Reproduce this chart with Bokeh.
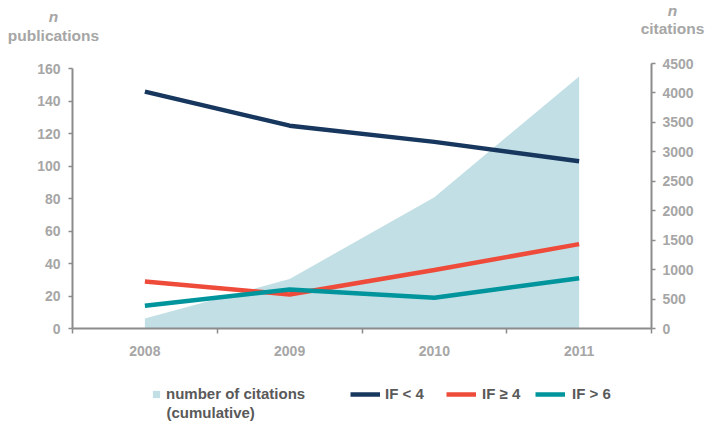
import numpy as np
from bokeh.plotting import figure
from bokeh.layouts import column
from bokeh.models import (Range1d, LinearAxis, FixedTicker, SingleIntervalTicker,
                          ColumnDataSource, Label, Legend, LegendItem)
from bokeh.embed import file_html
from bokeh.resources import INLINE

# ---- data -------------------------------------------------------------
years = ["2008", "2009", "2010", "2011"]
citations_cumulative = [170, 840, 2230, 4280]   # right axis (n citations)
if_below_4 = [146, 125, 115, 103]               # left axis (n publications)
if_at_least_4 = [29, 21, 36, 52]
if_above_6 = [14, 24, 19, 31]

pub_max = 160
cit_max = 4500

# ---- style ------------------------------------------------------------
FONT = "Liberation Sans"
TICK_TEXT = "#a6a6a6"
LEGEND_TEXT = "#595959"
AXIS_LINE = "#8c8c8c"
AREA = "#c1dfe4"
NAVY = "#17375e"
RED = "#ef4b3b"
TEAL = "#00949c"
LW = 4.5

W = 707
HEAD_H, MAIN_H, FOOT_H = 50, 320, 52

idx = np.arange(len(years))
src = ColumnDataSource(dict(x=idx, cit=citations_cumulative, lo=if_below_4,
                            mid=if_at_least_4, hi=if_above_6))


def blank(height):
    """Axis-less strip used for the titles and the key."""
    f = figure(width=W, height=height, output_backend="svg", toolbar_location=None,
               x_range=Range1d(0, W), y_range=Range1d(0, height),
               x_axis_type=None, y_axis_type=None, min_border=0,
               frame_align=False)
    f.outline_line_color = None
    f.grid.visible = False
    return f


# ---- header: axis titles ----------------------------------------------
head = blank(HEAD_H)


def title(text, x, y, style):
    head.add_layout(Label(x=x, y=y, x_units="screen", y_units="screen", text=text,
                          text_align="center", text_baseline="middle",
                          text_font=FONT, text_font_size="15.5px",
                          text_font_style=style, text_color=TICK_TEXT))


title("n", 53, 34, "bold italic")
title("publications", 53, 15, "bold")
title("n", 672, 40.5, "bold italic")
title("citations", 672, 22.5, "bold")

# ---- main chart --------------------------------------------------------
p = figure(width=W, height=MAIN_H, output_backend="svg", toolbar_location=None,
           x_range=Range1d(-0.5, len(years) - 0.5), y_range=Range1d(0, 163.3),
           x_axis_type=None, y_axis_type=None,
           min_border_left=72, min_border_right=56, min_border_top=13,
           min_border_bottom=42, frame_align=False)
p.outline_line_color = None
p.extra_y_ranges = {"cit": Range1d(0, cit_max)}


def style_axis(ax, standoff):
    ax.axis_line_color = AXIS_LINE
    ax.axis_line_width = 2
    ax.major_tick_line_color = AXIS_LINE
    ax.major_tick_line_width = 1.5
    ax.major_tick_in = 0
    ax.major_tick_out = 4
    ax.minor_tick_line_color = None
    ax.major_label_text_font = FONT
    ax.major_label_text_font_size = "14px"
    ax.major_label_text_font_style = "bold"
    ax.major_label_text_color = TICK_TEXT
    ax.major_label_standoff = standoff


# left axis: publications
left = LinearAxis(ticker=SingleIntervalTicker(interval=20), bounds=(0, pub_max))
style_axis(left, 8)
p.add_layout(left, "left")

# right axis: cumulative citations
right = LinearAxis(y_range_name="cit", ticker=SingleIntervalTicker(interval=500),
                   bounds=(0, cit_max))
style_axis(right, 7)
p.add_layout(right, "right")

# bottom axis: year labels at category centres, tick marks on boundaries
bottom = LinearAxis(ticker=FixedTicker(ticks=list(idx),
                                       minor_ticks=list(np.arange(len(years) + 1) - 0.5)),
                    major_label_overrides={int(i): y for i, y in zip(idx, years)})
style_axis(bottom, 12)
bottom.major_tick_line_color = None
bottom.minor_tick_line_color = AXIS_LINE
bottom.minor_tick_line_width = 1.5
bottom.minor_tick_in = 0
bottom.minor_tick_out = 5
p.add_layout(bottom, "below")

p.varea(x="x", y1=0, y2="cit", source=src, y_range_name="cit",
        fill_color=AREA, fill_alpha=1)
p.line("x", "lo", source=src, line_color=NAVY, line_width=LW)
p.line("x", "mid", source=src, line_color=RED, line_width=LW)
p.line("x", "hi", source=src, line_color=TEAL, line_width=LW)

# ---- footer: key (hidden stand-in renderers supply the key glyphs) ------
foot = blank(FOOT_H)
k_cit = foot.scatter("x", "cit", source=src, marker="square", size=7,
                     fill_color=AREA, line_color=None, visible=False)
k_lo = foot.line("x", "lo", source=src, line_color=NAVY, line_width=LW, visible=False)
k_mid = foot.line("x", "mid", source=src, line_color=RED, line_width=LW, visible=False)
k_hi = foot.line("x", "hi", source=src, line_color=TEAL, line_width=LW, visible=False)


def add_key(renderer, label, x, y, gw, gh, standoff):
    lg = Legend(items=[LegendItem(label=label, renderers=[renderer])],
                location=(x, y), orientation="horizontal",
                glyph_width=gw, glyph_height=gh, label_height=gh,
                label_standoff=standoff, spacing=0, padding=0, margin=0,
                border_line_color=None, background_fill_alpha=0,
                inactive_fill_alpha=0,
                label_text_font=FONT, label_text_font_size="15px",
                label_text_font_style="bold", label_text_color=LEGEND_TEXT)
    foot.add_layout(lg, "center")


add_key(k_cit, "number of citations", 147, 19.5, 18, 18, 1)
add_key(k_lo, "IF < 4", 350, 19.5, 30, 18, 5)
add_key(k_mid, "IF \u2265 4", 446, 19.5, 30, 18, 6)
add_key(k_hi, "IF > 6", 535, 19.5, 30, 18, 7)

foot.add_layout(Label(x=166, y=9.7, x_units="screen", y_units="screen",
                      text="(cumulative)", text_align="left", text_baseline="middle",
                      text_font=FONT, text_font_size="15px", text_font_style="bold",
                      text_color=LEGEND_TEXT))

layout = column(head, p, foot, spacing=0)
open("out.html", "w").write(file_html(layout, INLINE))
